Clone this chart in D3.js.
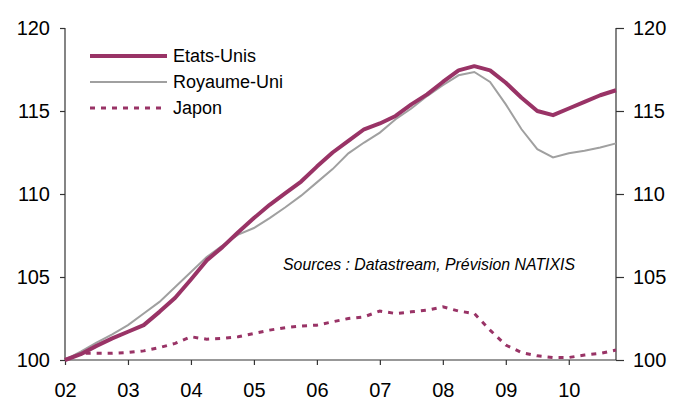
<!DOCTYPE html>
<html lang="fr">
<head>
    <meta charset="utf-8">
    <title>Etats-Unis, Royaume-Uni, Japon</title>
    <script type="text/javascript" src="https://cdn.jsdelivr.net/npm/d3@7"></script>
    <style>
        body { margin: 0; background: #fff; }
        text { font-family: "Liberation Sans", Arial, sans-serif; fill: #000; }
    </style>
</head>
<body>
    <script type="text/javascript">

        // quarterly, 2002 Q1 -> 2010 Q4
        var startYear = 2002;
        var etatsUnis = [100, 100.35, 100.85, 101.3, 101.7, 102.1, 102.9, 103.75, 104.85, 106.0,
            106.8, 107.7, 108.55, 109.35, 110.05, 110.75, 111.65, 112.5, 113.2, 113.9,
            114.25, 114.7, 115.4, 116.0, 116.75, 117.45, 117.7, 117.45, 116.7, 115.8,
            115.0, 114.75, 115.15, 115.55, 115.95, 116.25];
        var royaumeUni = [100, 100.5, 101.05, 101.55, 102.1, 102.8, 103.5, 104.4, 105.3, 106.2,
            106.9, 107.55, 107.95, 108.55, 109.2, 109.9, 110.7, 111.5, 112.45, 113.1,
            113.7, 114.5, 115.15, 115.9, 116.55, 117.15, 117.35, 116.75, 115.4, 113.9,
            112.7, 112.2, 112.45, 112.6, 112.8, 113.05];
        var japon = [100, 100.4, 100.4, 100.4, 100.45, 100.55, 100.75, 101.0, 101.4, 101.25,
            101.3, 101.4, 101.6, 101.8, 101.95, 102.05, 102.1, 102.3, 102.5, 102.6,
            102.95, 102.8, 102.9, 103.0, 103.2, 102.95, 102.8, 101.8, 100.9, 100.45,
            100.25, 100.15, 100.15, 100.3, 100.4, 100.6];

        var yTicks = [100, 105, 110, 115, 120];
        var xTicks = [2002, 2003, 2004, 2005, 2006, 2007, 2008, 2009, 2010];
        var xLabels = ["02", "03", "04", "05", "06", "07", "08", "09", "10"];
        var seriesNames = ["Etats-Unis", "Royaume-Uni", "Japon"];
        var source = "Sources : Datastream, Prévision NATIXIS";

        var w = 683;
        var h = 401;
        // plot box (not named "top": that is window.top)
        var pLeft = 65, pRight = 616, pTop = 28, pBottom = 360;

        var plum = "#993366";
        var grey = "#a0a0a0";

        var x = d3.scaleLinear().domain([2002, 2010.75]).range([pLeft, pRight]);
        var y = d3.scaleLinear().domain([100, 120]).range([pBottom, pTop]);

        var svg = d3.select("body")
            .append("svg")
            .attr("width", w)
            .attr("height", h);

        function toPoints(arr) {
            return arr.map(function(v, i){ return {t: startYear + i / 4, v: v}; });
        }

        var line = d3.line()
            .x(function(d){ return x(d.t); })
            .y(function(d){ return y(d.v); });

        // axes
        var yLeft = svg.append("g")
            .attr("transform", "translate(" + pLeft + ",0)")
            .call(d3.axisLeft(y).tickValues(yTicks).tickSize(5).tickPadding(10).tickFormat(d3.format("d")));
        var yRight = svg.append("g")
            .attr("transform", "translate(" + pRight + ",0)")
            .call(d3.axisRight(y).tickValues(yTicks).tickSize(8).tickPadding(9).tickFormat(d3.format("d")));
        var xAxis = svg.append("g")
            .attr("transform", "translate(0," + pBottom + ")")
            .call(d3.axisBottom(x).tickValues(xTicks).tickSize(5).tickPadding(18)
                .tickFormat(function(d, i){ return xLabels[i]; }));

        svg.selectAll(".domain").attr("stroke", "#333").attr("stroke-width", 1.2);
        svg.selectAll(".tick line").attr("stroke", "#333").attr("stroke-width", 1.2);
        svg.selectAll(".tick text").attr("font-size", 20).attr("fill", "#000")
            .attr("font-family", "Liberation Sans, Arial, sans-serif");
        // plain domain lines, no end caps
        yLeft.select(".domain").attr("d", "M0," + pTop + "V" + pBottom);
        yRight.select(".domain").attr("d", "M0," + pTop + "V" + pBottom);
        xAxis.select(".domain").attr("d", "M" + pLeft + ",0H" + pRight);

        // series
        svg.append("path")
            .datum(toPoints(japon))
            .attr("d", line)
            .attr("fill", "none")
            .attr("stroke", plum)
            .attr("stroke-width", 3)
            .attr("stroke-dasharray", "5,6");

        svg.append("path")
            .datum(toPoints(royaumeUni))
            .attr("d", line)
            .attr("fill", "none")
            .attr("stroke", grey)
            .attr("stroke-width", 2);

        svg.append("path")
            .datum(toPoints(etatsUnis))
            .attr("d", line)
            .attr("fill", "none")
            .attr("stroke", plum)
            .attr("stroke-width", 4)
            .attr("stroke-linejoin", "round");

        // legend
        var legStyle = [
            {color: plum, width: 4, dash: null},
            {color: grey, width: 2, dash: null},
            {color: plum, width: 3, dash: "5,6"}
        ];
        var leg = svg.selectAll(".leg")
            .data(seriesNames)
            .enter()
            .append("g")
            .attr("transform", function(d, i){ return "translate(90," + (56 + i * 26) + ")"; });
        leg.append("line")
            .attr("x1", 0).attr("x2", 77)
            .attr("stroke", function(d, i){ return legStyle[i].color; })
            .attr("stroke-width", function(d, i){ return legStyle[i].width; })
            .attr("stroke-dasharray", function(d, i){ return legStyle[i].dash; });
        leg.append("text")
            .attr("x", 83)
            .attr("dy", "0.36em")
            .attr("font-size", 18)
            .text(function(d){ return d; });

        svg.append("text")
            .attr("x", 283)
            .attr("y", 270)
            .attr("font-size", 17)
            .attr("font-style", "italic")
            .attr("textLength", 292)
            .attr("lengthAdjust", "spacingAndGlyphs")
            .text(source);

    </script>
</body>
</html>
